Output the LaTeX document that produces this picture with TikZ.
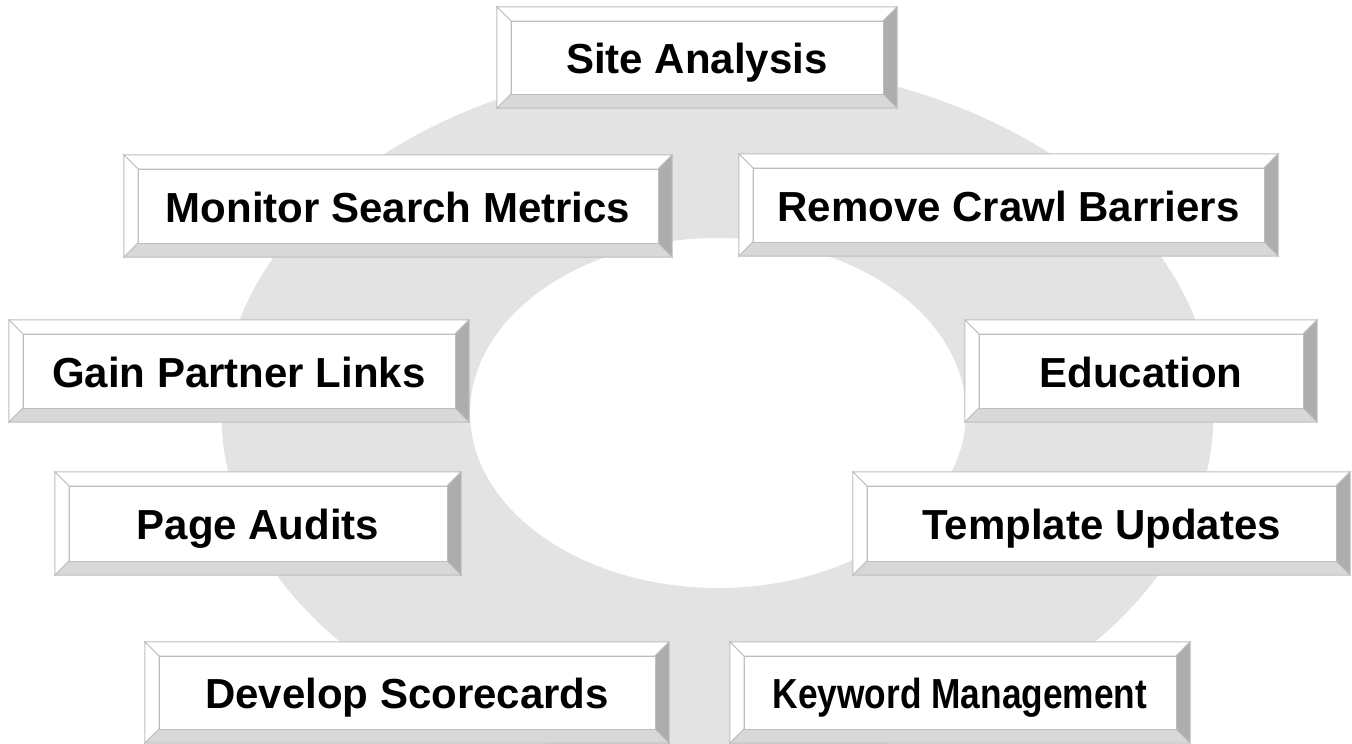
\documentclass[tikz,border=0pt]{standalone}
\usepackage{fontspec}
\setmainfont{Liberation Sans}
\usetikzlibrary{fit,calc}

\definecolor{ringgrey}{HTML}{E3E3E3}
\definecolor{bevline}{HTML}{BEBEBE}
\definecolor{bevdark}{HTML}{ADADAD}
\definecolor{bevmid}{HTML}{D8D8D8}

\tikzset{
  bevedge/.style={draw=bevline, line width=1pt, line join=miter},
  bevlight/.style={bevedge, fill=white},
  bevshade/.style={bevedge, fill=bevdark},
  bevfloor/.style={bevedge, fill=bevmid},
  boxlabel/.style={font=\fontsize{42}{50}\selectfont\bfseries, text=black, inner sep=0pt},
}

% bevelled button: name, left, top, right, bottom, label
\newcommand\bevelbox[6]{%
  \coordinate (#1-tl) at (#2,#3);
  \coordinate (#1-br) at (#4,#5);
  \node[fit=(#1-tl)(#1-br), inner sep=0pt] (#1) {};
  \coordinate (#1-itl) at (#2+14,#3+14);
  \coordinate (#1-itr) at (#4-14,#3+14);
  \coordinate (#1-ibr) at (#4-14,#5-14);
  \coordinate (#1-ibl) at (#2+14,#5-14);
  \filldraw[bevlight] (#1.north west) -- (#1.north east) -- (#1-itr) -- (#1-itl) -- cycle;
  \filldraw[bevlight] (#1.north west) -- (#1-itl) -- (#1-ibl) -- (#1.south west) -- cycle;
  \filldraw[bevshade] (#1.north east) -- (#1.south east) -- (#1-ibr) -- (#1-itr) -- cycle;
  \filldraw[bevfloor] (#1.south west) -- (#1-ibl) -- (#1-ibr) -- (#1.south east) -- cycle;
  \filldraw[bevlight] (#1-itl) rectangle (#1-ibr);
  \node[boxlabel, anchor=base] (#1-t) at ({(#2+#4)/2},{(#3+#5)/2+16}) {#6};
}

\begin{document}
\begin{tikzpicture}[x=1pt, y=-1pt]
  \useasboundingbox (0,0) rectangle (1352,744);
  \fill[white] (0,0) rectangle (1352,744);

  % grey ring behind the buttons
  \fill[ringgrey, even odd rule]
    (717.5,414) ellipse [x radius=496pt, y radius=351pt]
    (718,413) ellipse [x radius=248pt, y radius=175pt];

  \bevelbox{site}{497}{7}{897}{108}{Site Analysis}
  \bevelbox{monitor}{124}{155}{672}{257}{Monitor Search Metrics}
  \bevelbox{crawl}{739}{154}{1278}{256}{Remove Crawl Barriers}
  \bevelbox{partner}{9}{320}{469}{422}{Gain Partner Links}
  \bevelbox{education}{965}{320}{1317}{422}{Education}
  \bevelbox{audits}{55}{472}{461}{575}{Page Audits}
  \bevelbox{template}{853}{472}{1350}{575}{Template Updates}
  \bevelbox{scorecards}{145}{642}{669}{743}{Develop Scorecards}
  \bevelbox{keyword}{730}{642}{1190}{743}{\scalebox{0.84}[1]{Keyword Management}}
\end{tikzpicture}
\end{document}
